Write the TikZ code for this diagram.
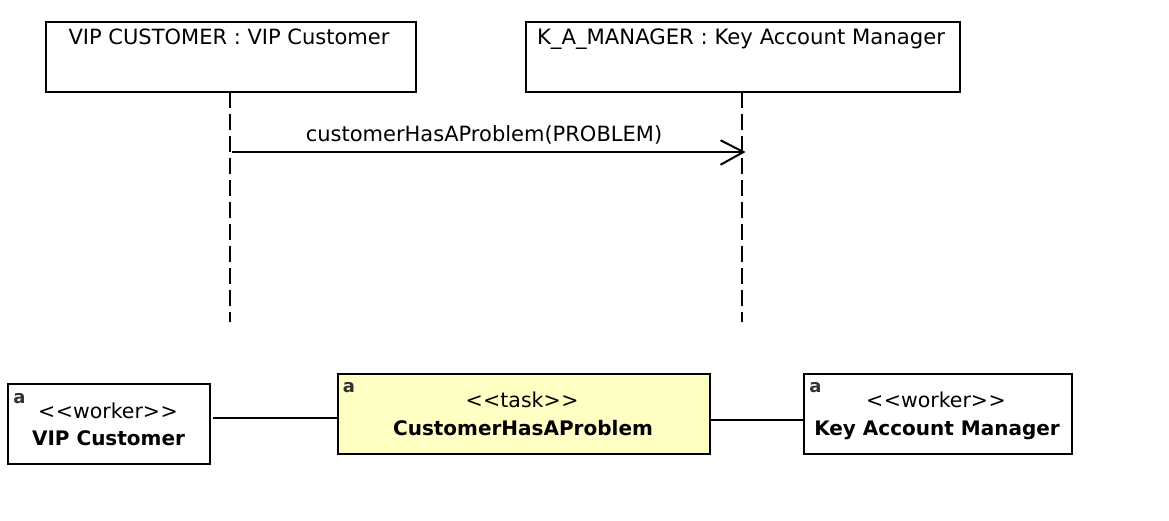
\documentclass[tikz,border=0pt]{standalone}
\usepackage{fontspec}
\setmainfont[Ligatures=NoCommon]{DejaVu Sans}
\definecolor{taskyellow}{HTML}{FFFFC4}
\tikzset{
  lifebox/.style={draw=black,fill=white,minimum width=#1,minimum height=70pt,inner sep=0pt,outer sep=0pt,anchor=north west},
  lifetext/.style={font=\fontsize{21}{24}\selectfont,inner sep=0pt,anchor=base},
  msgtext/.style={font=\fontsize{21}{24}\selectfont,inner sep=0pt,anchor=base},
  rolebox/.style={draw=black,fill=white,inner sep=0pt,outer sep=0pt,anchor=north west},
  stereo/.style={font=\fontsize{20.5}{24}\selectfont,inner sep=0pt,anchor=base},
  rolename/.style={font=\fontsize{20}{24}\selectfont\bfseries,inner sep=0pt,anchor=base},
  icon/.style={font=\fontsize{18}{20}\selectfont\bfseries,inner sep=0pt,anchor=base,text=black!80},
  lifeline/.style={draw=black,dash pattern=on 16pt off 6pt},
  conn/.style={draw=black},
  openarrow/.style={draw=black,line cap=round}
}
\newcommand{\ltlt}{{<}\kern0.5pt{<}}
\newcommand{\gtgt}{{>}\kern0.5pt{>}}
\begin{document}
\begin{tikzpicture}[x=1pt,y=-1pt,line width=2pt]
\useasboundingbox (0,0) rectangle (1169,520);
\fill[white] (0,0) rectangle (1169,520);
% lifelines
\node[lifebox=370pt] (vipl) at (46,22) {};
\node[lifebox=434pt] (kaml) at (526,22) {};
\coordinate (vipend) at (230,322);
\coordinate (kamend) at (742,322);
\draw[lifeline] (vipl.south -| vipend) -- (vipend);
\draw[lifeline] (kaml.south -| kamend) -- (kamend);
\node[lifetext] (viptext) at (229,44) {VIP CUSTOMER : VIP Customer};
\node[lifetext,font=\fontsize{21.2}{24}\selectfont] (kamtext) at (741,44) {K\_A\_MANAGER : Key Account Manager};
% message
\coordinate (msgfrom) at (232,152);
\coordinate (msgto) at (743.5,152);
\draw[conn] (msgfrom) -- (msgto);
\draw[openarrow] (721,140.5) -- (msgto) -- (721,164.5);
\node[msgtext] (msg) at (484,141) {customerHasAProblem(PROBLEM)};
% roles
\node[rolebox,minimum width=202pt,minimum height=80pt] (vip) at (8,384) {};
\node[rolebox,minimum width=372pt,minimum height=80pt,fill=taskyellow] (task) at (338,374) {};
\node[rolebox,minimum width=268pt,minimum height=80pt] (kam) at (804,374) {};
\coordinate (c1a) at (213,418);
\coordinate (c2b) at (804,420);
\draw[conn] (c1a) -- (task.west |- c1a);
\draw[conn] (task.east |- c2b) -- (c2b);
\node[icon] (ia) at (19.5,403) {a};
\node[icon] (ib) at (349,392) {a};
\node[icon] (ic) at (815.5,392) {a};
\node[stereo] (s1) at (108,418) {\ltlt worker\gtgt};
\node[rolename] (n1) at (108.5,445) {VIP Customer};
\node[stereo] (s2) at (522,407) {\ltlt task\gtgt};
\node[rolename] (n2) at (523,435) {CustomerHasAProblem};
\node[stereo] (s3) at (936,407) {\ltlt worker\gtgt};
\node[rolename] (n3) at (937,435) {Key Account Manager};
\end{tikzpicture}
\end{document}
